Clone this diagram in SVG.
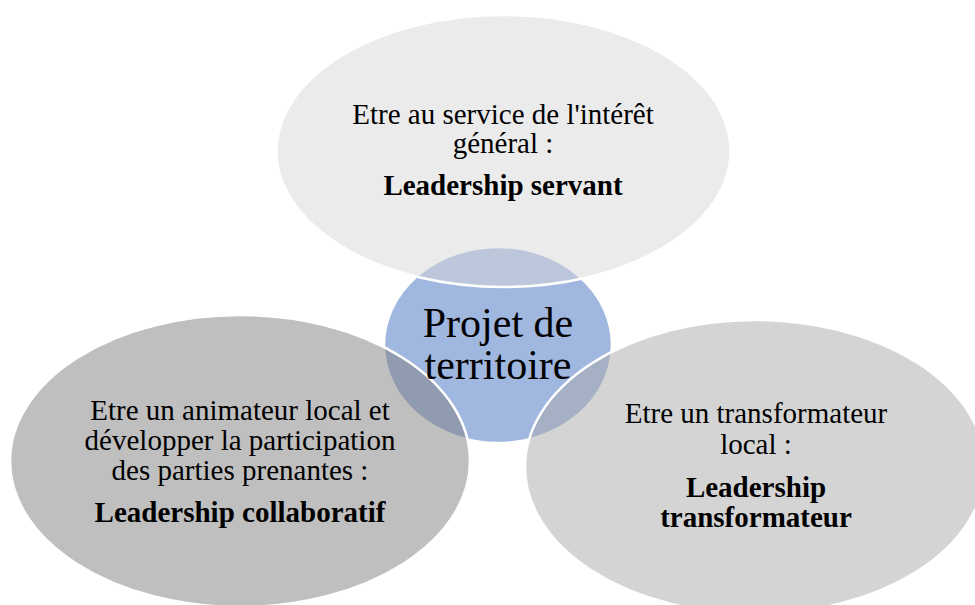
<svg xmlns="http://www.w3.org/2000/svg" width="975" height="605" viewBox="0 0 975 605">
<style>
  .shape { stroke: #ffffff; stroke-width: 2.5; }
  .sat { fill-opacity: 0.5; }
  .t { font-family: "Liberation Serif", "Times New Roman", serif; font-size: 29px; fill: #000000; text-anchor: middle; }
  .b { font-weight: bold; }
  .big { font-size: 42px; }
</style>
<rect width="975" height="605" fill="#ffffff"/>
<g id="node-center">
  <ellipse class="shape" cx="498" cy="345" rx="114" ry="98" fill="#a0b7df"/>
</g>
<g id="node-top">
  <ellipse class="shape sat" cx="503.5" cy="151" rx="227" ry="136" fill="#d7d7d7"/>
  <text class="t" x="503" y="124">Etre au service de l'intérêt</text>
  <text class="t" x="503" y="153">général :</text>
  <text class="t b" x="503" y="195">Leadership servant</text>
</g>
<g id="node-left">
  <ellipse class="shape sat" cx="240" cy="461" rx="230" ry="146" fill="#7f7f7f"/>
  <text class="t" x="240" y="420">Etre un animateur local et</text>
  <text class="t" x="240" y="450">développer la participation</text>
  <text class="t" x="240" y="480">des parties prenantes :</text>
  <text class="t b" x="240" y="522">Leadership collaboratif</text>
</g>
<g id="node-right">
  <ellipse class="shape sat" cx="755" cy="467" rx="230" ry="147" fill="#a9a9a9"/>
  <text class="t" x="756" y="423">Etre un transformateur</text>
  <text class="t" x="756" y="454">local :</text>
  <text class="t b" x="756" y="497">Leadership</text>
  <text class="t b" x="756" y="527">transformateur</text>
</g>
<g id="node-center-label">
  <text class="t big" x="498" y="337">Projet de</text>
  <text class="t big" x="498" y="379">territoire</text>
</g>
</svg>
